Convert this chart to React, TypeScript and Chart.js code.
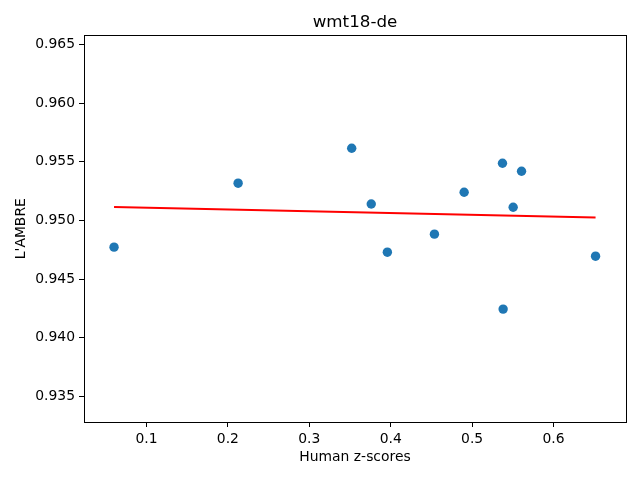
import { useEffect, useRef } from "react"
import { Chart, registerables } from "chart.js"

Chart.register(...registerables)

// Human z-scores vs L'AMBRE, wmt18-de
const humanZ = [0.0602, 0.2126, 0.3521, 0.3761, 0.3959, 0.4537, 0.4902, 0.5373, 0.5381, 0.5504, 0.5607, 0.6516]
const lambre = [0.94772, 0.95317, 0.95615, 0.9514, 0.94729, 0.94883, 0.9524, 0.95487, 0.94244, 0.95112, 0.95419, 0.94695]

// regression line end points
const fitX = [0.0602, 0.6516]
const fitY = [0.95115, 0.95024]

const xTicks = [0.1, 0.2, 0.3, 0.4, 0.5, 0.6]
const yTicks = [0.935, 0.94, 0.945, 0.95, 0.955, 0.96, 0.965]

const FONT = "'DejaVu Sans', sans-serif"

// matplotlib draws the full box around the axes
const framePlugin = {
  id: "frame",
  afterDraw(chart: Chart) {
    const { ctx, chartArea } = chart
    ctx.save()
    ctx.strokeStyle = "#000"
    ctx.lineWidth = 1
    ctx.strokeRect(
      Math.round(chartArea.left) + 0.5,
      Math.round(chartArea.top) + 0.5,
      Math.round(chartArea.right - chartArea.left),
      Math.round(chartArea.bottom - chartArea.top)
    )
    ctx.restore()
  },
}

export default function App() {
  const chartRef = useRef<HTMLCanvasElement>(null)
  const chartInstance = useRef<Chart | null>(null)

  useEffect(() => {
    if (!chartRef.current) return
    if (chartInstance.current) chartInstance.current.destroy()
    const ctx = chartRef.current.getContext("2d")
    if (!ctx) return

    chartInstance.current = new Chart(ctx, {
      type: "scatter",
      data: {
        datasets: [
          {
            type: "line",
            data: fitX.map((x, i) => ({ x, y: fitY[i] })),
            borderColor: "#ff0000",
            borderWidth: 2,
            pointRadius: 0,
            fill: false,
            order: 0,
          },
          {
            data: humanZ.map((x, i) => ({ x, y: lambre[i] })),
            backgroundColor: "#1f77b4",
            borderColor: "#1f77b4",
            borderWidth: 0,
            pointRadius: 4.7,
            order: 1,
          },
        ],
      },
      options: {
        responsive: true,
        maintainAspectRatio: false,
        animation: false,
        layout: { padding: { top: 0, right: 14, bottom: 0, left: 0 } },
        plugins: {
          legend: { display: false },
          tooltip: { enabled: false },
          title: {
            display: true,
            text: "wmt18-de",
            fullSize: false,
            color: "#000",
            font: { family: FONT, size: 16.7, weight: "normal" },
            padding: { top: 13, bottom: 2.3 },
          },
        },
        scales: {
          x: {
            type: "linear",
            min: 0.0233,
            max: 0.689,
            afterFit: (scale) => {
              scale.height = 58
            },
            afterBuildTicks: (scale) => {
              scale.ticks = xTicks.map((value) => ({ value }))
            },
            grid: {
              drawOnChartArea: false,
              drawTicks: true,
              tickLength: 5,
              tickColor: "#000",
              lineWidth: 1,
            },
            border: { display: true, color: "#000", width: 1 },
            ticks: {
              color: "#000",
              padding: 4,
              maxRotation: 0,
              font: { family: FONT, size: 13.9 },
              callback: (v) => Number(v).toFixed(1),
            },
            title: {
              display: true,
              text: "Human z-scores",
              color: "#000",
              font: { family: FONT, size: 13.9 },
              padding: { top: 4, bottom: 14.5 },
            },
          },
          y: {
            type: "linear",
            min: 0.93282,
            max: 0.96577,
            afterFit: (scale) => {
              scale.width = 84
            },
            afterBuildTicks: (scale) => {
              scale.ticks = yTicks.map((value) => ({ value }))
            },
            grid: {
              drawOnChartArea: false,
              drawTicks: true,
              tickLength: 5,
              tickColor: "#000",
              lineWidth: 1,
            },
            border: { display: true, color: "#000", width: 1 },
            ticks: {
              color: "#000",
              padding: 4,
              font: { family: FONT, size: 13.9 },
              callback: (v) => Number(v).toFixed(3),
            },
            title: {
              display: true,
              text: "L'AMBRE",
              color: "#000",
              font: { family: FONT, size: 13.9 },
              padding: { top: 13.5, bottom: 4 },
            },
          },
        },
      },
      plugins: [framePlugin],
    })

    return () => {
      if (chartInstance.current) {
        chartInstance.current.destroy()
        chartInstance.current = null
      }
    }
  }, [])

  return (
    <div style={{ position: "absolute", left: 0, top: 0, width: 640, height: 480, background: "#fff" }}>
      <canvas ref={chartRef} />
    </div>
  )
}
